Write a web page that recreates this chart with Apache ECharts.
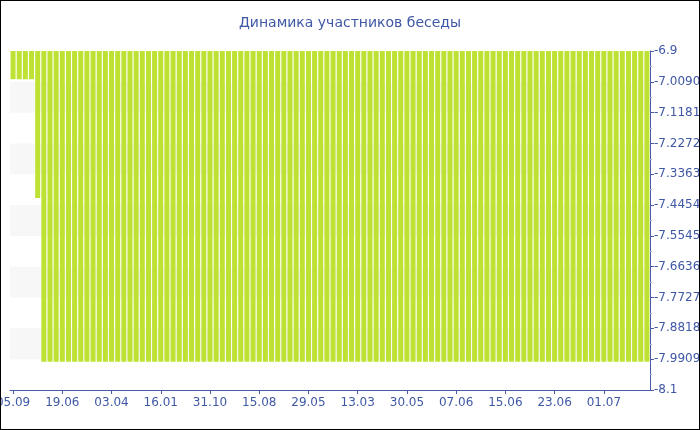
<!DOCTYPE html>
<html>
<head>
<meta charset="utf-8">
<script src="https://cdn.jsdelivr.net/npm/echarts@6/dist/echarts.min.js"></script>
<style>
html,body{margin:0;padding:0;background:#fff;}
#wrap{width:700px;height:430px;box-sizing:border-box;border:1px solid #000;overflow:hidden;}
#chart{width:698px;height:428px;}
</style>
</head>
<body>
<div id="wrap"><div id="chart"></div></div>
<script>
const titleText = 'Динамика участников беседы';
const tickLabels = ['05.09','19.06','03.04','16.01','31.10','15.08','29.05','13.03','30.05','07.06','15.06','23.06','01.07'];
const labelStep = 8;
const values = [
  -7, -7, -7, -7, -7.42, -8, -8, -8,
  -8, -8, -8, -8, -8, -8, -8, -8,
  -8, -8, -8, -8, -8, -8, -8, -8,
  -8, -8, -8, -8, -8, -8, -8, -8,
  -8, -8, -8, -8, -8, -8, -8, -8,
  -8, -8, -8, -8, -8, -8, -8, -8,
  -8, -8, -8, -8, -8, -8, -8, -8,
  -8, -8, -8, -8, -8, -8, -8, -8,
  -8, -8, -8, -8, -8, -8, -8, -8,
  -8, -8, -8, -8, -8, -8, -8, -8,
  -8, -8, -8, -8, -8, -8, -8, -8,
  -8, -8, -8, -8, -8, -8, -8, -8,
  -8, -8, -8, -8, -8, -8, -8, -8
];
const yMin = -8.1;
const yMax = -6.9;
const ySplits = 11;

const categories = values.map((v, i) => (i % labelStep === 0 ? (tickLabels[i / labelStep] || '') : ''));

function fmtY(v) {
  if (Math.abs(v * 10 - Math.round(v * 10)) < 1e-7) return (Math.round(v * 10) / 10).toString();
  const t = Math.floor(Math.abs(v) * 10000 + 1e-7) / 10000;
  return (v < 0 ? '-' : '') + t.toFixed(4);
}

const textColor = '#3f58a6';
const axisColor = '#4a5ca6';
const font = 'DejaVu Sans';

const chart = echarts.init(document.getElementById('chart'));
chart.setOption({
  animation: false,
  title: {
    text: titleText,
    left: 'center',
    top: 10,
    textStyle: { color: textColor, fontSize: 14, fontWeight: 'normal', fontFamily: font }
  },
  grid: { left: 9, right: 49, top: 50, bottom: 39, outerBoundsMode: 'none', containLabel: false },
  xAxis: {
    type: 'category',
    data: categories,
    boundaryGap: true,
    axisLine: { lineStyle: { color: axisColor, width: 1 } },
    axisTick: { show: true, alignWithLabel: true, interval: labelStep - 1, length: 4, lineStyle: { color: axisColor } },
    axisLabel: { interval: labelStep - 1, color: textColor, fontSize: 12, fontFamily: font, margin: 7 },
    splitLine: { show: false }
  },
  yAxis: {
    type: 'value',
    position: 'right',
    min: yMin,
    max: yMax,
    interval: (yMax - yMin) / ySplits,
    axisLine: { show: true, lineStyle: { color: axisColor, width: 1 } },
    axisTick: { show: true, length: 4, lineStyle: { color: axisColor } },
    minorTick: { show: true, splitNumber: 2, length: 2, lineStyle: { color: '#aab4d4' } },
    axisLabel: { color: textColor, fontSize: 12, fontFamily: font, margin: 4, formatter: fmtY },
    splitLine: { show: false },
    splitArea: { show: true, areaStyle: { color: ['rgba(255,255,255,0)', '#f7f7f7'] } }
  },
  series: [{
    type: 'bar',
    data: values,
    barWidth: 5,
    itemStyle: { color: '#bde233' }
  }]
});
</script>
</body>
</html>
